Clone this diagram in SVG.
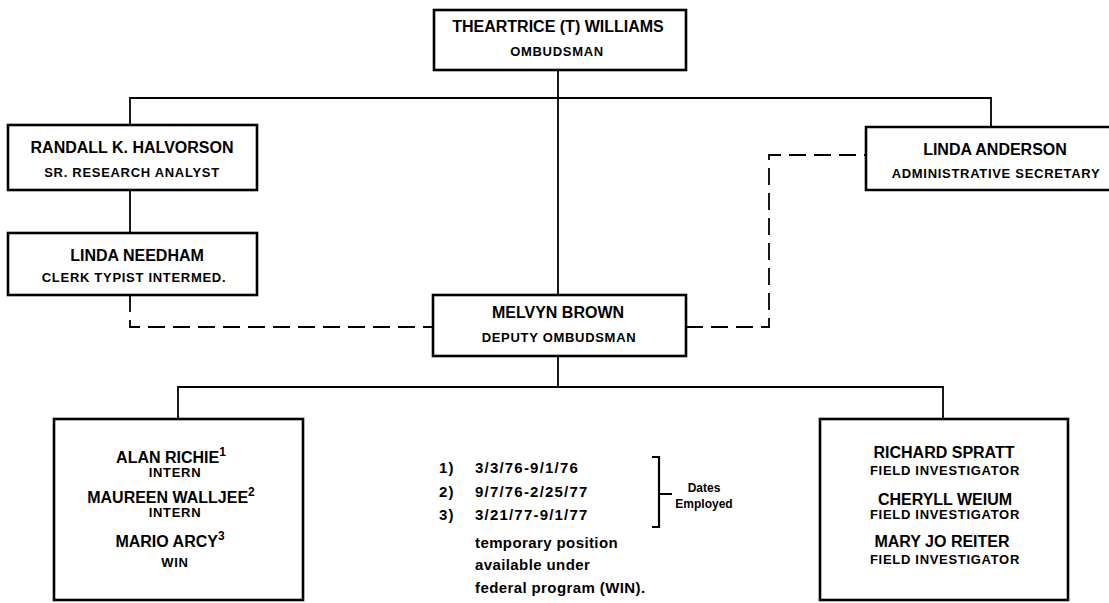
<svg xmlns="http://www.w3.org/2000/svg" width="1109" height="603" viewBox="0 0 1109 603">
<style>
.box{fill:#fff;stroke:#000;stroke-width:2.6}
.ln{fill:none;stroke:#000;stroke-width:1.8}
.dash{fill:none;stroke:#000;stroke-width:1.8;stroke-dasharray:17 8}
text{font-family:"Liberation Sans",Arial,sans-serif;font-weight:bold;fill:#000}
.nm{font-size:16px;text-anchor:middle}
.tl{font-size:13px;text-anchor:middle;letter-spacing:0.7px}
.sup{font-size:12px}
.fn{font-size:15px;letter-spacing:0.4px}
.dt{font-size:15px;letter-spacing:1.2px}
.sm{font-size:12px;text-anchor:middle}
</style>
<rect width="1109" height="603" fill="#fff"/>
<g id="connectors">
<path class="ln" d="M558 70 V295"/>
<path class="ln" d="M130 125 V98 H991 V127"/>
<path class="ln" d="M130 190 V233"/>
<path class="dash" d="M130 295 V327 H433"/>
<path class="dash" d="M686 327 H769 V155 H866"/>
<path class="ln" d="M558 356 V387"/>
<path class="ln" d="M178 419 V387 H943 V419"/>
</g>
<g id="n-williams">
<rect class="box" x="434" y="10" width="252" height="60"/>
<text class="nm" x="558" y="32">THEARTRICE (T) WILLIAMS</text>
<text class="tl" x="557" y="56">OMBUDSMAN</text>
</g>
<g id="n-halvorson">
<rect class="box" x="8" y="125" width="249" height="65"/>
<text class="nm" x="132" y="153">RANDALL K. HALVORSON</text>
<text class="tl" x="132" y="177">SR. RESEARCH ANALYST</text>
</g>
<g id="n-needham">
<rect class="box" x="8" y="233" width="249" height="62"/>
<text class="nm" x="137" y="261">LINDA NEEDHAM</text>
<text class="tl" x="134" y="282">CLERK TYPIST INTERMED.</text>
</g>
<g id="n-anderson">
<path class="box" d="M1115 127 H866 V190 H1115"/>
<text class="nm" x="995" y="155">LINDA ANDERSON</text>
<text class="tl" x="996" y="178">ADMINISTRATIVE SECRETARY</text>
</g>
<g id="n-brown">
<rect class="box" x="433" y="295" width="253" height="61"/>
<text class="nm" x="558" y="318">MELVYN BROWN</text>
<text class="tl" x="559" y="342">DEPUTY OMBUDSMAN</text>
</g>
<g id="n-interns">
<rect class="box" x="54" y="419" width="249" height="181"/>
<text class="nm" x="171" y="463">ALAN RICHIE<tspan class="sup" dy="-7">1</tspan></text>
<text class="tl" x="175" y="477">INTERN</text>
<text class="nm" x="171" y="503">MAUREEN WALLJEE<tspan class="sup" dy="-7">2</tspan></text>
<text class="tl" x="175" y="517">INTERN</text>
<text class="nm" x="170" y="547">MARIO ARCY<tspan class="sup" dy="-7">3</tspan></text>
<text class="tl" x="175" y="567">WIN</text>
</g>
<g id="n-investigators">
<rect class="box" x="820" y="419" width="248" height="181"/>
<text class="nm" x="944" y="458">RICHARD SPRATT</text>
<text class="tl" x="945" y="475">FIELD INVESTIGATOR</text>
<text class="nm" x="945" y="505">CHERYLL WEIUM</text>
<text class="tl" x="945" y="519">FIELD INVESTIGATOR</text>
<text class="nm" x="942" y="547">MARY JO REITER</text>
<text class="tl" x="945" y="564">FIELD INVESTIGATOR</text>
</g>
<g id="footnote">
<text class="dt" x="439" y="473">1)</text>
<text class="dt" x="439" y="497">2)</text>
<text class="dt" x="439" y="520">3)</text>
<text class="dt" x="475" y="473">3/3/76-9/1/76</text>
<text class="dt" x="475" y="497">9/7/76-2/25/77</text>
<text class="dt" x="475" y="520">3/21/77-9/1/77</text>
<text class="fn" x="475" y="548">temporary position</text>
<text class="fn" x="475" y="570">available under</text>
<text class="fn" x="475" y="593">federal program (WIN).</text>
<path class="ln" d="M652 457 H659 V527 H652 M659 494 H672" style="stroke-width:2.2"/>
<text class="sm" x="704" y="492">Dates</text>
<text class="sm" x="704" y="508">Employed</text>
</g>
</svg>
